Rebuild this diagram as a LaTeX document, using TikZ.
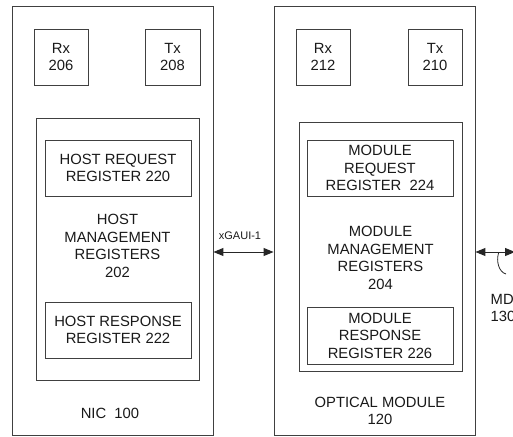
\documentclass[tikz,border=0pt]{standalone}
\usepackage{fontspec}
\setmainfont{Liberation Sans}
\usetikzlibrary{arrows.meta}
\begin{document}
\begin{tikzpicture}[x=1pt,y=-1pt,
  box/.style={draw=black!75, line width=0.9pt, rectangle, inner sep=0pt},
  txt/.style={font=\fontsize{14.8}{17.5}\selectfont, align=center, inner sep=0pt, text=black!90},
  conn/.style={draw=black!85, line width=1pt, {Triangle[length=10pt,width=8pt]}-{Triangle[length=10pt,width=8pt]}}
]
\useasboundingbox (0,0) rectangle (513,436);
% NIC side
\node[box, minimum width=201, minimum height=429] (nic) at (112.5,220.5) {};
\node[box, txt, minimum width=54, minimum height=56] (rx206) at (61,57) {Rx\\206};
\node[box, txt, minimum width=55, minimum height=56] (tx208) at (172.5,57) {Tx\\208};
\node[box, minimum width=163, minimum height=262] (hmr) at (117.5,249) {};
\node[box, txt, minimum width=146, minimum height=56] (hreq) at (118,168) {HOST REQUEST\\REGISTER 220};
\node[txt] (hmrlabel) at (117.5,246) {HOST\\MANAGEMENT\\REGISTERS\\202};
\node[box, txt, minimum width=146, minimum height=56] (hresp) at (118,330) {HOST RESPONSE\\REGISTER 222};
\node[txt] (niclabel) at (110,413) {NIC~~100};
% Optical module side
\node[box, minimum width=201, minimum height=429] (om) at (374.5,220.5) {};
\node[box, txt, minimum width=54, minimum height=56] (rx212) at (323,57) {Rx\\212};
\node[box, txt, minimum width=54, minimum height=56] (tx210) at (435,57) {Tx\\210};
\node[box, minimum width=163, minimum height=249] (mmr) at (380.5,246.5) {};
\node[box, txt, minimum width=146, minimum height=56] (mreq) at (380,168) {MODULE\\REQUEST\\REGISTER~~224};
\node[txt] (mmrlabel) at (380.5,258) {MODULE\\MANAGEMENT\\REGISTERS\\204};
\node[box, txt, minimum width=146, minimum height=57] (mresp) at (380,335.5) {MODULE\\RESPONSE\\REGISTER 226};
\node[txt] (omlabel) at (380,411) {OPTICAL MODULE\\120};
% connectors
\draw[conn] (nic.east |- 0,252) -- (om.west |- 0,252);
\node[font=\fontsize{11}{13}\selectfont, inner sep=0pt, text=black!90] (xgaui) at (240,236) {xGAUI-1};
\coordinate (mdioend) at (515,252);
\draw[conn] (om.east |- 0,252) -- (mdioend);
\coordinate (leadtop) at (498.5,253);
\coordinate (leadbot) at (506,274);
\draw[black!85, line width=0.8pt] (leadtop) .. controls (496,262) and (499,272) .. (leadbot);
\node[txt, align=left, anchor=west] (mdio) at (490.5,308) {MDIO\\130};
\end{tikzpicture}
\end{document}
